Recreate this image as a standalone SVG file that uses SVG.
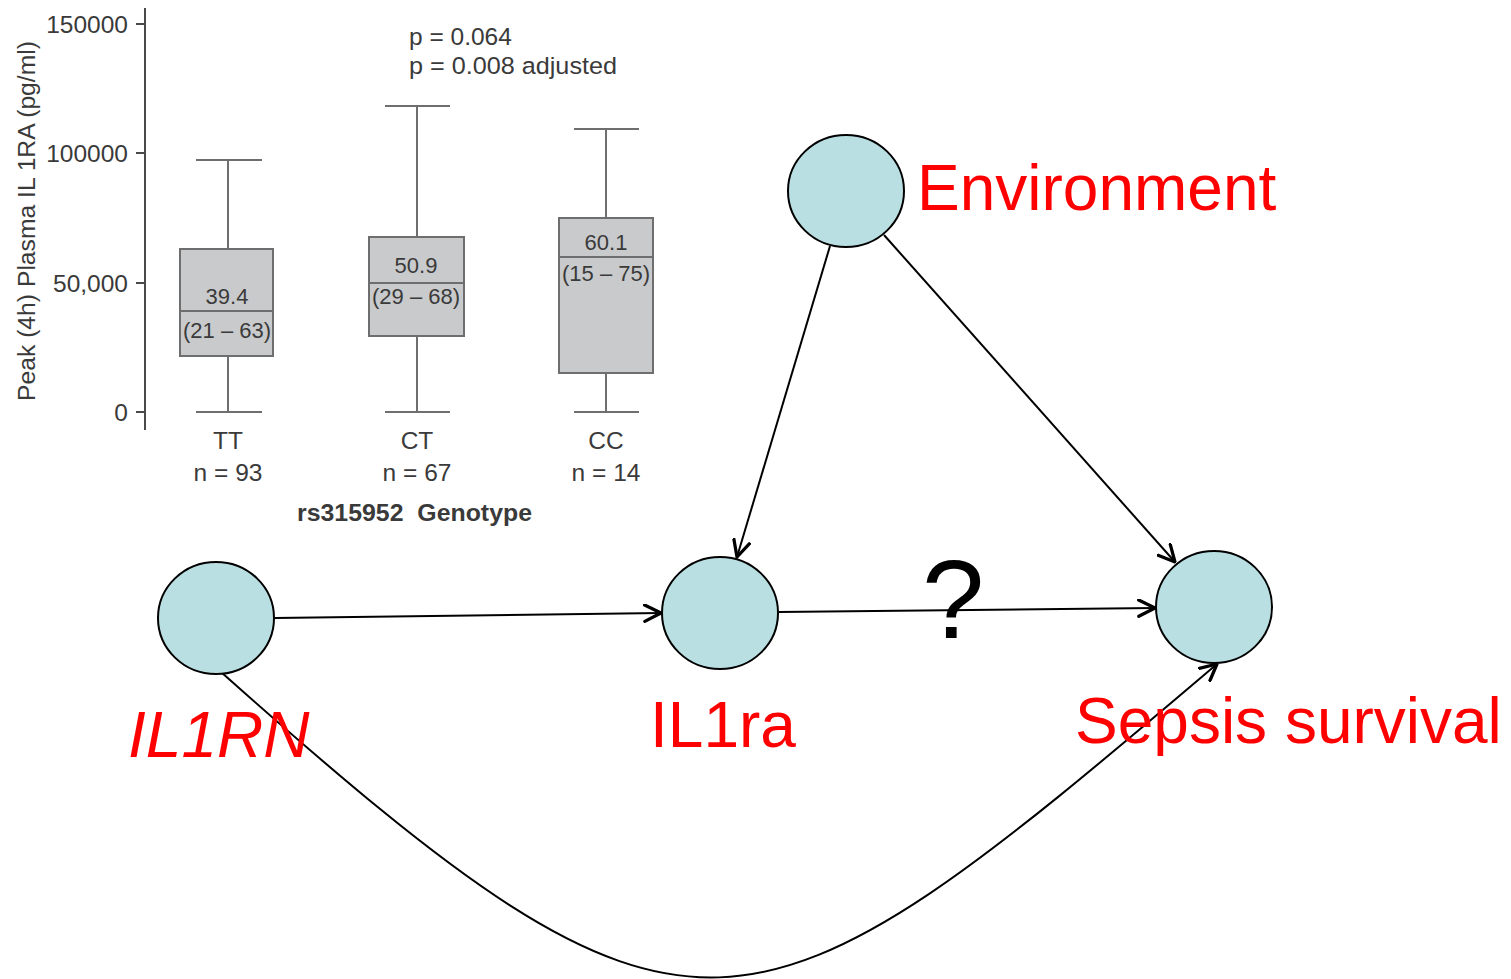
<svg xmlns="http://www.w3.org/2000/svg" width="1511" height="979" viewBox="0 0 1511 979">
  <style>
    .ax { stroke: #4a4a4a; stroke-width: 2; fill: none; }
    .wh { stroke: #6e6e6e; stroke-width: 2; fill: none; }
    .box { fill: #c9cacc; stroke: #6e6e6e; stroke-width: 2; }
    .ct { font-family: "Liberation Sans", Arial, sans-serif; fill: #3a3a3a; }
    .tick { font-size: 24.5px; text-anchor: end; }
    .mid { text-anchor: middle; }
    .node { fill: #b9dfe2; stroke: #000; stroke-width: 2; }
    .lbl { font-family: "Liberation Sans", Arial, sans-serif; font-size: 64px; fill: #ff0000; }
    .edge { stroke: #000; stroke-width: 2; fill: none; marker-end: url(#open); }
  </style>
  <defs>
    <marker id="open" viewBox="0 0 14 14" refX="13" refY="7" markerWidth="19" markerHeight="19" markerUnits="userSpaceOnUse" orient="auto">
      <path d="M1,1 L13,7 L1,13" fill="none" stroke="#000" stroke-width="2.4" stroke-linecap="round" stroke-linejoin="round"/>
    </marker>
  </defs>
  <rect width="1511" height="979" fill="#ffffff"/>

  <!-- box plot: peak plasma IL1RA by genotype -->
  <g id="boxplot">
    <line class="ax" x1="145" y1="8" x2="145" y2="430"/>
    <line class="ax" x1="136" y1="24" x2="145" y2="24"/>
    <line class="ax" x1="136" y1="153" x2="145" y2="153"/>
    <line class="ax" x1="136" y1="283" x2="145" y2="283"/>
    <line class="ax" x1="136" y1="412" x2="145" y2="412"/>
    <g class="ct tick">
      <text x="128" y="33">150000</text>
      <text x="128" y="162">100000</text>
      <text x="128" y="292">50,000</text>
      <text x="128" y="421">0</text>
    </g>
    <text class="ct mid" font-size="23" transform="translate(35,221) rotate(-90)" textLength="360" lengthAdjust="spacingAndGlyphs">Peak (4h) Plasma IL 1RA (pg/ml)</text>

    <!-- TT -->
    <line class="wh" x1="228" y1="160" x2="228" y2="412"/>
    <line class="wh" x1="196" y1="160" x2="262" y2="160"/>
    <line class="wh" x1="196" y1="412" x2="262" y2="412"/>
    <rect class="box" x="180" y="249" width="93" height="107"/>
    <line class="wh" x1="180" y1="311" x2="273" y2="311"/>
    <text class="ct mid" x="227" y="304" font-size="22">39.4</text>
    <text class="ct mid" x="227" y="338" font-size="22">(21 – 63)</text>

    <!-- CT -->
    <line class="wh" x1="417" y1="106" x2="417" y2="412"/>
    <line class="wh" x1="385" y1="106" x2="450" y2="106"/>
    <line class="wh" x1="385" y1="412" x2="450" y2="412"/>
    <rect class="box" x="369" y="237" width="95" height="99"/>
    <line class="wh" x1="369" y1="283" x2="464" y2="283"/>
    <text class="ct mid" x="416" y="273" font-size="22">50.9</text>
    <text class="ct mid" x="416" y="304" font-size="22">(29 – 68)</text>

    <!-- CC -->
    <line class="wh" x1="606" y1="129" x2="606" y2="412"/>
    <line class="wh" x1="574" y1="129" x2="639" y2="129"/>
    <line class="wh" x1="574" y1="412" x2="639" y2="412"/>
    <rect class="box" x="559" y="218" width="94" height="155"/>
    <line class="wh" x1="559" y1="257" x2="653" y2="257"/>
    <text class="ct mid" x="606" y="250" font-size="22">60.1</text>
    <text class="ct mid" x="606" y="281" font-size="22">(15 – 75)</text>

    <g class="ct" font-size="24.5">
      <text x="409" y="45">p = 0.064</text>
      <text x="409" y="74" textLength="208" lengthAdjust="spacingAndGlyphs">p = 0.008 adjusted</text>
      <text class="mid" x="228" y="449">TT</text>
      <text class="mid" x="228" y="481">n = 93</text>
      <text class="mid" x="417" y="449">CT</text>
      <text class="mid" x="417" y="481">n = 67</text>
      <text class="mid" x="606" y="449">CC</text>
      <text class="mid" x="606" y="481">n = 14</text>
      <text x="297" y="521" font-weight="bold" xml:space="preserve" textLength="235" lengthAdjust="spacingAndGlyphs">rs315952  Genotype</text>
    </g>
  </g>

  <!-- causal graph connectors -->
  <g id="connectors">
    <line class="edge" x1="275" y1="618" x2="661" y2="613"/>
    <line class="edge" x1="779" y1="612" x2="1155" y2="608"/>
    <line class="edge" x1="830" y1="246" x2="737" y2="557"/>
    <line class="edge" x1="884" y1="235" x2="1175" y2="562"/>
    <path class="edge" d="M221,672 C695,1094 743,1067 1217,664"/>
  </g>

  <g id="node-environment">
    <ellipse class="node" cx="846" cy="191" rx="58" ry="56"/>
    <text class="lbl" x="917" y="210">Environment</text>
  </g>
  <g id="node-il1rn">
    <ellipse class="node" cx="216" cy="618" rx="58" ry="56"/>
    <text class="lbl" x="128" y="757" font-style="italic">IL1RN</text>
  </g>
  <g id="node-il1ra">
    <ellipse class="node" cx="720" cy="613" rx="58" ry="56"/>
    <text class="lbl" x="650" y="747">IL1ra</text>
  </g>
  <g id="node-sepsis">
    <ellipse class="node" cx="1214" cy="607" rx="58" ry="56"/>
    <text class="lbl" x="1075" y="743">Sepsis survival</text>
  </g>

  <text id="question" x="922" y="638" font-family="Liberation Sans, Arial, sans-serif" font-size="112" fill="#000">?</text>
</svg>
